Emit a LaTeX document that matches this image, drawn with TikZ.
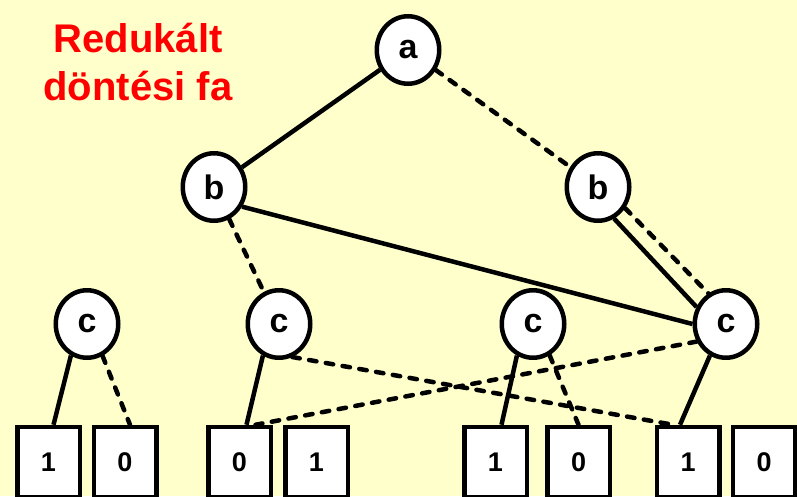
\documentclass[tikz,border=0pt]{standalone}
\usepackage{fontspec}
\setmainfont{Liberation Sans}
\usetikzlibrary{backgrounds}
\usetikzlibrary{shapes.geometric}
\definecolor{paperyellow}{RGB}{255,255,204}
\definecolor{titlered}{RGB}{255,0,0}

\tikzset{
  var/.style={draw, ellipse, fill=white, line width=4.5pt, minimum width=62.5pt, minimum height=67.5pt,
    inner sep=0pt, font=\fontsize{34}{34}\selectfont\bfseries},
  leaf/.style={draw, rectangle, fill=white, line width=4.5pt, minimum width=62.5pt, minimum height=70pt,
    inner sep=0pt, font=\fontsize{27}{27}\selectfont\bfseries},
  hi/.style={line width=4.5pt},
  lo/.style={line width=4.5pt, line cap=round, dash pattern=on 7.5pt off 9.5pt},
}

\begin{document}
\begin{tikzpicture}[x=1pt, y=-1pt]
    \useasboundingbox (0,0) rectangle (797,496);
    \node[text=titlered, align=center, anchor=base, font=\fontsize{40}{48}\selectfont\bfseries]
      (title) at (138,100) {Redukált\\döntési fa};

    \node[var] (a)  at (408,50)  {a};
    \node[var] (bl) at (214,187) {b};
    \node[var] (br) at (598,187) {b};
    \node[var] (c1) at (87,324)  {c};
    \node[var] (c2) at (279,324) {c};
    \node[var] (c3) at (533,324) {c};
    \node[var] (c4) at (726,324) {c};

    \node[leaf] (t1) at (48.5,462)  {1};
    \node[leaf] (t2) at (125,462)   {0};
    \node[leaf] (t3) at (239.5,462) {0};
    \node[leaf] (t4) at (316.5,462) {1};
    \node[leaf] (t5) at (495.5,462) {1};
    \node[leaf] (t6) at (578.5,462) {0};
    \node[leaf] (t7) at (688,462)   {1};
    \node[leaf] (t8) at (764,462)   {0};

    \begin{scope}[on background layer]
      \fill[paperyellow] (0,0) rectangle (797,496);
      \draw[hi] (a) -- (bl);
      \draw[lo] (a) -- (br);
      \draw[lo] (bl) -- (c2);
      \draw[hi] (bl.-35) -- (c4.west);
      \draw[hi] (br.-63) -- (c4.150);
      \draw[lo] (br.-38) -- (c4.120);
      \draw[hi] (c1.-117) -- ([xshift=5pt]t1.north);
      \draw[lo] (c1.-64)  -- ([xshift=5pt]t2.north);
      \draw[hi] (c2.-117) -- ([xshift=7pt]t3.north);
      \draw[lo] (c2.-68)  -- ([xshift=-15pt]t7.north);
      \draw[hi] (c3.-117) -- ([xshift=6pt]t5.north);
      \draw[lo] (c3.-62)  -- (t6.north);
      \draw[lo] (c4.211)  -- ([xshift=16pt]t3.north);
      \draw[hi] (c4.-117) -- ([xshift=-8pt]t7.north);
    \end{scope}
\end{tikzpicture}
\end{document}
